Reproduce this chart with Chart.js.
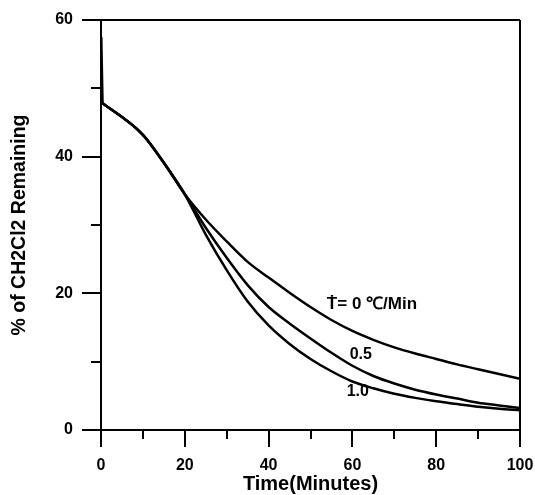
<!DOCTYPE html>
<html>
<head>
<meta charset="utf-8">
<script src="https://cdn.jsdelivr.net/npm/chart.js@4/dist/chart.umd.min.js"></script>
<style>
html,body{margin:0;padding:0;background:#fff;}
canvas{display:block;}
</style>
</head>
<body>
<canvas id="c" width="535" height="495"></canvas>
<script>
// ---- data ----
const timeMinutes = [0, 10, 15, 20, 25, 30, 35, 40, 45, 50, 55, 60, 65, 70, 75, 80, 85, 90, 95, 100];
const rate0  = [48.0, 43.2, 39.1, 34.5, 30.8, 27.6, 24.6, 22.3, 20.1, 18.0, 16.1, 14.5, 13.2, 12.1, 11.2, 10.4, 9.6, 8.9, 8.2, 7.5];
const rate05 = [48.0, 43.2, 39.1, 34.5, 29.6, 25.2, 21.2, 18.0, 15.6, 13.4, 11.3, 9.4, 7.9, 6.8, 5.9, 5.2, 4.6, 4.0, 3.6, 3.2];
const rate10 = [48.0, 43.2, 39.1, 34.5, 28.6, 23.4, 18.8, 15.3, 12.6, 10.4, 8.6, 7.1, 6.1, 5.3, 4.7, 4.2, 3.8, 3.4, 3.1, 2.9];
// initial drop at t = 0
const dropTimes  = [0, 0.3];
const dropValues = [57.5, 48.0];
const seriesNames = ['0', '0.5', '1.0'];
const xMajorStep = 20;
const yMajorStep = 20;
const xMinorTicks = [10, 30, 50, 70, 90];
const yMinorTicks = [10, 30, 50];
const xTitle = 'Time(Minutes)';
const yTitle = '% of CH2Cl2 Remaining';
// curve labels: text and anchor in data units
const curveLabelTexts = ['\u1E6A= 0 \u2103/Min', '0.5', '1.0'];
const curveLabelX = [53.9, 62.0, 61.3];
const curveLabelY = [18.4, 11.1, 5.6];
const curveLabelAlign = ['left', 'center', 'center'];

const FONT = "'Liberation Sans', Arial, Helvetica, sans-serif";

function toPoints(xs, ys){ return ys.map((y,i)=>({x:xs[i], y:y})); }

const minorTicksPlugin = {
  id:'minorTicks',
  afterDraw(chart){
    const c = chart.ctx, xs = chart.scales.x, ys = chart.scales.y;
    const area = chart.chartArea;
    c.save();
    c.strokeStyle = '#000';
    c.lineWidth = 2;
    c.beginPath();
    xMinorTicks.forEach(v=>{
      const px = Math.round(xs.getPixelForValue(v));
      c.moveTo(px, area.bottom);
      c.lineTo(px, area.bottom + 9);
    });
    yMinorTicks.forEach(v=>{
      const py = Math.round(ys.getPixelForValue(v));
      c.moveTo(area.left, py);
      c.lineTo(area.left - 10, py);
    });
    c.stroke();
    c.restore();
  }
};

const curveLabelPlugin = {
  id:'curveLabels',
  afterDatasetsDraw(chart){
    const c = chart.ctx, xs = chart.scales.x, ys = chart.scales.y;
    c.save();
    c.fillStyle = '#000';
    c.textBaseline = 'middle';
    curveLabelTexts.forEach((t,i)=>{
      c.font = (i===0 ? "bold 17px " : "bold 16px ") + FONT;
      c.textAlign = curveLabelAlign[i];
      c.fillText(t, xs.getPixelForValue(curveLabelX[i]), ys.getPixelForValue(curveLabelY[i]));
    });
    c.restore();
  }
};

const curveStyle = {
  borderColor:'#000',
  borderWidth:2.5,
  pointRadius:0,
  fill:false,
  cubicInterpolationMode:'monotone'
};

const datasets = [rate0, rate05, rate10].map((s,i)=>Object.assign({
  label: seriesNames[i],
  data: toPoints(timeMinutes, s)
}, curveStyle));
datasets.push(Object.assign({label:'drop', data: toPoints(dropTimes, dropValues)}, curveStyle, {borderWidth:3}));

new Chart(document.getElementById('c'), {
  type:'line',
  data:{ datasets },
  options:{
    responsive:false,
    animation:false,
    devicePixelRatio:1,
    layout:{padding:{top:20, right:15, left:0, bottom:0}},
    plugins:{legend:{display:false}, tooltip:{enabled:false}},
    scales:{
      x:{
        type:'linear', min:0, max:100,
        ticks:{stepSize:xMajorStep, color:'#000', font:{family:FONT, size:16, weight:'bold'}, padding:9, maxRotation:0},
        grid:{
          drawOnChartArea:true,
          color:(ctx)=> (ctx.tick && ctx.tick.value===100) ? '#000' : 'rgba(0,0,0,0)',
          lineWidth:2, tickLength:17, tickColor:'#000', tickWidth:2
        },
        border:{display:true, color:'#000', width:2},
        title:{display:true, text:xTitle, color:'#000', font:{family:FONT, size:20, weight:'bold'}, padding:{top:0,bottom:-1}},
        afterFit:(s)=>{ s.height = 65; s.paddingLeft = 0; s.paddingRight = 0; }
      },
      y:{
        type:'linear', min:0, max:60,
        ticks:{stepSize:yMajorStep, color:'#000', font:{family:FONT, size:16, weight:'bold'}, padding:9},
        grid:{
          drawOnChartArea:true,
          color:(ctx)=> (ctx.tick && ctx.tick.value===60) ? '#000' : 'rgba(0,0,0,0)',
          lineWidth:2, tickLength:19, tickColor:'#000', tickWidth:2
        },
        border:{display:true, color:'#000', width:2},
        title:{display:true, text:yTitle, color:'#000', font:{family:FONT, size:19.5, weight:'bold'}, padding:{top:8,bottom:0}},
        afterFit:(s)=>{ s.width = 101; s.paddingTop = 0; s.paddingBottom = 0; }
      }
    }
  },
  plugins:[minorTicksPlugin, curveLabelPlugin]
});
</script>
</body>
</html>
